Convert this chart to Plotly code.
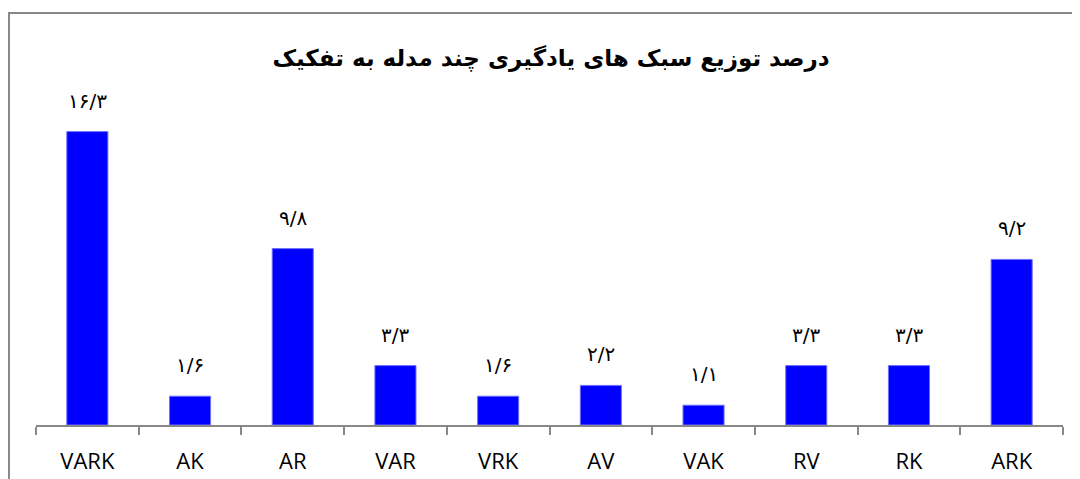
import plotly.graph_objects as go

categories = ["VARK", "AK", "AR", "VAR", "VRK", "AV", "VAK", "RV", "RK", "ARK"]
values = [16.3, 1.6, 9.8, 3.3, 1.6, 2.2, 1.1, 3.3, 3.3, 9.2]
title_text = "درصد توزیع سبک های یادگیری چند مدله به تفکیک"

PERSIAN = str.maketrans("0123456789.", "۰۱۲۳۴۵۶۷۸۹/")


def fa(v):
    return f"{v:.1f}".translate(PERSIAN)


fig = go.Figure()
fig.add_trace(go.Bar(
    x=categories,
    y=values,
    marker=dict(color="#0000FF", line=dict(color="#7070FF", width=1)),
    hoverinfo="x+y",
))

for c, v in zip(categories, values):
    fig.add_annotation(
        x=c, y=v, text=fa(v), showarrow=False,
        yanchor="middle", yshift=31,
        font=dict(family="DejaVu Sans", size=20, color="#000000"),
    )

# outer frame (only left and top edges visible)
fig.add_shape(
    type="rect", xref="paper", yref="paper",
    x0=-0.0263, x1=1.2, y0=-0.4, y1=1.2716,
    line=dict(color="#888888", width=2), fillcolor="rgba(0,0,0,0)",
    layer="below",
)

fig.update_layout(
    width=1080, height=479,
    margin=dict(l=28, r=25, t=93, b=62),
    paper_bgcolor="white", plot_bgcolor="white",
    showlegend=False,
    bargap=0.6,
    title=dict(
        text="<b>" + title_text + "</b>",
        x=543 / 1080, xanchor="center",
        y=1 - 50 / 479, yanchor="middle",
        font=dict(family="DejaVu Sans", size=23, color="#000000"),
    ),
    xaxis=dict(
        type="category",
        automargin=False,
        showline=True, linecolor="#888888", linewidth=2,
        ticks="outside", tickson="boundaries", ticklen=8,
        tickcolor="#888888", tickwidth=2,
        tickfont=dict(family="Open Sans", size=22, color="#000000"),
        ticklabelstandoff=16,
        showgrid=False, zeroline=False,
    ),
    yaxis=dict(
        range=[0, 18], visible=False, showgrid=False, zeroline=False,
        automargin=False,
    ),
)

fig.write_html("out.html")
